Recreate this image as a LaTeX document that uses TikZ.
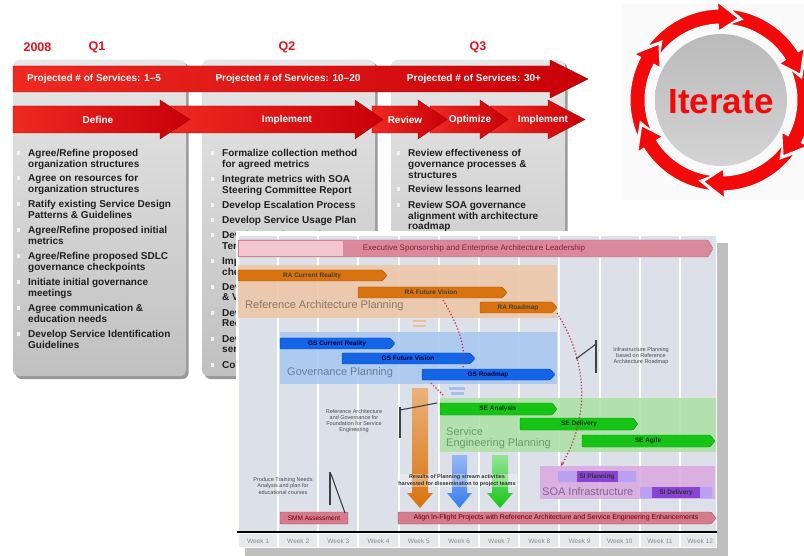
\documentclass[tikz,border=0pt]{standalone}
\usepackage{fontspec}
\setmainfont{Liberation Sans}
\usetikzlibrary{arrows.meta}
\definecolor{hdrred}{HTML}{E8101A}
\definecolor{barL}{HTML}{EE2A22}
\definecolor{barR}{HTML}{C80008}
\definecolor{bardk}{HTML}{A00008}
\definecolor{ringred}{HTML}{F20A0A}
\definecolor{panT}{HTML}{E6E6E6}
\definecolor{panB}{HTML}{C0C0C0}
\definecolor{gbg}{HTML}{DCE0E8}
\definecolor{wkbg}{HTML}{E6E8EC}
\definecolor{execL}{HTML}{F2C6D0}
\definecolor{execD}{HTML}{D9899A}
\definecolor{execE}{HTML}{B86474}
\definecolor{execT}{HTML}{8A2030}
\definecolor{raband}{HTML}{EDC6A6}
\definecolor{rabar}{HTML}{D9730F}
\definecolor{rabarE}{HTML}{A65200}
\definecolor{gsband}{HTML}{A8C7F0}
\definecolor{gsbar}{HTML}{1464E6}
\definecolor{gsbarE}{HTML}{0A44B0}
\definecolor{seband}{HTML}{ADE2A6}
\definecolor{sebar}{HTML}{16C416}
\definecolor{sebarE}{HTML}{0A960A}
\definecolor{siband}{HTML}{DAAADF}
\definecolor{sibar}{HTML}{8A44D4}
\definecolor{sibarL}{HTML}{B8A0F2}
\definecolor{pkbar}{HTML}{D47C8C}
\definecolor{pkbarE}{HTML}{B05868}
\definecolor{dotred}{HTML}{C0304A}
\definecolor{raT}{HTML}{8C7868}
\definecolor{gsT}{HTML}{6C7C9C}
\definecolor{seT}{HTML}{6E9A6E}
\definecolor{siT}{HTML}{806890}
\newcommand\redarrow[3]{%
  \shadedraw[left color=barL,right color=barR,draw=bardk,line width=.3pt]
   (#1,106) -- (#2,106) -- (#2,100) -- (#3,119.5) -- (#2,139) -- (#2,133) -- (#1,133) -- cycle;}
\newcommand\garrow[5]{%
  \path[#1,rounded corners=1pt] (#2,#4) -- ({#3-5},#4) -- (#3,{(#4+#5)/2}) -- ({#3-5},#5) -- (#2,#5) -- cycle;}
\newcommand\varrow[4]{%
  \shade[#1] (#2,#4) -- (#3,#4) -- (#3,493) -- ({#3+5},493) -- ({(#2+#3)/2},508) -- ({#2-5},493) -- (#2,493) -- cycle;}
\begin{document}
\begin{tikzpicture}[x=1pt,y=-1pt,
  hdr/.style={font=\fontsize{12.5}{14}\selectfont\bfseries, text=hdrred, inner sep=0pt},
  bartxt/.style={font=\fontsize{10}{12}\selectfont\bfseries, text=white, inner sep=0pt},
  bul/.style={anchor=north west, inner sep=0pt, align=left, font=\fontsize{10}{10.7}\selectfont\bfseries, text=black!88},
  gtxt/.style={font=\fontsize{6.5}{7}\selectfont\bfseries, inner sep=0pt},
  band/.style={font=\fontsize{11}{11}\selectfont, inner sep=0pt, anchor=west, align=left},
  note/.style={font=\fontsize{5.5}{6.2}\selectfont, text=black!70, align=center, inner sep=0pt},
  wk/.style={font=\fontsize{6.5}{7}\selectfont, text=black!45, inner sep=0pt},
  callout/.style={draw=black!75, line width=1.1pt},
  dots/.style={dotted, line width=1.2pt, draw=dotred}]
\useasboundingbox (0,0) rectangle (804,556);
\fill[white] (0,0) rectangle (804,556);

% ---------- Iterate ----------
\fill[black!2] (622,4) rectangle (804,200);
\begin{scope}[shift={(721,100)}]
  \shade[top color=black!27, middle color=black!6, bottom color=black!17] (0,0) circle[radius=66pt];
  \foreach \t in {-222,-162,-102,-42,18,78}{
    \filldraw[fill=ringred, draw=white, line width=1pt]
      ({\t+66}:91pt) arc[start angle={\t+66}, end angle={\t+14}, radius=91pt]
      -- ({\t+14}:98pt) -- (\t:83.5pt) -- ({\t+14}:69pt) -- ({\t+14}:76pt)
      arc[start angle={\t+14}, end angle={\t+66}, radius=76pt]
      -- ({\t+57}:83.5pt) -- cycle;
  }
\end{scope}
\node[font=\fontsize{35}{40}\selectfont\bfseries, text=ringred, inner sep=0pt] (iter) at (721,102) {Iterate};

% ---------- panels ----------
\foreach \x/\w in {13/173,202/173,391/174}{
  \fill[black!40,rounded corners=6pt] (\x+2.5,62.5) rectangle (\x+\w+2.5,379);
  \shade[top color=panT,bottom color=panB,rounded corners=6pt] (\x,60) rectangle (\x+\w,376);
}
\node[hdr] (yr) at (37.5,47) {2008};
\node[hdr] (q1) at (97,47) {Q1};
\node[hdr] (q2) at (287,47) {Q2};
\node[hdr] (q3) at (478,47) {Q3};

\shadedraw[left color=barL,right color=barR,draw=bardk,line width=.3pt]
  (13,66) -- (550,66) -- (550,60) -- (588,79) -- (550,98) -- (550,92) -- (13,92) -- cycle;
\node[bartxt] (s1) at (94,79) {Projected \# of Services: 1–5};
\node[bartxt] (s2) at (288,79) {Projected \# of Services: 10–20};
\node[bartxt] (s3) at (474,79) {Projected \# of Services: 30+};

\redarrow{490}{548}{585}
\redarrow{430}{480}{508}
\redarrow{372}{418}{447}
\redarrow{170}{355}{383}
\redarrow{13}{160}{190}
\node[bartxt] (ph1) at (98,120) {Define};
\node[bartxt] (ph2) at (287,120) {Implement};
\node[bartxt] (ph3) at (405,120) {Review};
\node[bartxt] (ph4) at (470,120) {Optimize};
\node[bartxt] (ph5) at (543,120) {Implement};

\foreach \bx/\by in {18.5/153,18.5/178,18.5/204,18.5/230,18.5/256,18.5/282,18.5/308,18.5/334,
  212.5/153,212.5/179,212.5/205,212.5/220,212.5/235,212.5/261,212.5/287,212.5/313,212.5/339,212.5/365,
  398.5/153,398.5/189,398.5/205}{
  \fill[white!95!black] (\bx-1.7,\by-1.7) rectangle (\bx+1.7,\by+1.7);
}
\node[bul] (a1) at (28,149.3) {Agree/Refine proposed\\organization structures};
\node[bul] (a2) at (28,174.5) {Agree on resources for\\organization structures};
\node[bul] (a3) at (28,200.5) {Ratify existing Service Design\\Patterns \& Guidelines};
\node[bul] (a4) at (28,226.5) {Agree/Refine proposed initial\\metrics};
\node[bul] (a5) at (28,252.5) {Agree/Refine proposed SDLC\\governance checkpoints};
\node[bul] (a6) at (28,278.5) {Initiate initial governance\\meetings};
\node[bul] (a7) at (28,304.5) {Agree communication \&\\education needs};
\node[bul] (a8) at (28,330.5) {Develop Service Identification\\Guidelines};

\node[bul] (b1) at (222,149.3) {Formalize collection method\\for agreed metrics};
\node[bul] (b2) at (222,175) {Integrate metrics with SOA\\Steering Committee Report};
\node[bul] (b3) at (222,201) {Develop Escalation Process};
\node[bul] (b4) at (222,216) {Develop Service Usage Plan};
\node[bul] (b5) at (222,231) {Develop Design Review\\Templates};
\begin{scope}
  \clip (200,240) rectangle (236.5,380);
  \node[bul] (b6) at (222,257) {Impl\\chec};
  \node[bul] (b7) at (222,283) {Dev\\\& Vi};
  \node[bul] (b8) at (222,309) {Dev\\Rec};
  \node[bul] (b9) at (222,335) {Dev\\serv};
  \node[bul] (b10) at (222,361) {Com};
\end{scope}

\node[bul] (c1) at (408,149.3) {Review effectiveness of\\governance processes \&\\structures};
\node[bul] (c2) at (408,185) {Review lessons learned};
\node[bul] (c3) at (408,201) {Review SOA governance\\alignment with architecture\\roadmap};

% ---------- Gantt chart ----------
\fill[black!25] (717,243) rectangle (728,556);
\fill[black!25] (245,548) rectangle (728,556);
\fill[white] (236,231) rectangle (717,548);
\fill[gbg] (239,236) rectangle (716,531);
\fill[wkbg] (239,534) rectangle (716,547);
\foreach \k in {0,...,10} \fill[white] ({277+40.2*\k},236) rectangle ({279+40.2*\k},547);
\draw[line width=1.8pt] (237,532) -- (717,532);
\foreach \k in {1,...,12} \node[wk] (w\k) at ({258+40.2*(\k-1)},541) {Week \k};

\garrow{fill=execD,draw=execE,line width=.4pt}{238}{713}{240}{257}
\fill[execL] (239,241) rectangle (343,256);
\node[font=\fontsize{8}{9}\selectfont, text=execT, inner sep=0pt] (ex) at (474,248.5) {Executive Sponsorship and Enterprise Architecture Leadership};

\fill[raband, opacity=.88] (238,265) rectangle (557,318);
\fill[gsband, opacity=.88] (280,332) rectangle (557,384);
\fill[seband, opacity=.88] (440,398) rectangle (716,452);
\fill[siband, opacity=.88] (540,466) rectangle (715,499);

\node[band, text=raT] (raL) at (245,306) {Reference Architecture Planning};
\node[band, text=gsT] (gsL) at (287,373) {Governance Planning};
\node[band, text=seT] (seL) at (446,438) {Service\\Engineering Planning};
\node[band, text=siT] (siL) at (542,492) {SOA Infrastructure};

\fill[rabar!45] (413,320) rectangle (426,322.5);
\fill[rabar!45] (413,325) rectangle (426,327.5);
\fill[gsbar!40] (449,387) rectangle (465,389.5);
\fill[gsbar!40] (451,392) rectangle (464,394.5);

\garrow{fill=rabar,draw=rabarE,line width=.4pt}{238}{387}{270}{281}
\garrow{fill=rabar,draw=rabarE,line width=.4pt}{358}{507}{287}{298}
\garrow{fill=rabar,draw=rabarE,line width=.4pt}{480}{557}{302}{313}
\node[gtxt, text=black!75] (ra1) at (312,275.5) {RA Current Reality};
\node[gtxt, text=black!75] (ra2) at (431,292.5) {RA Future Vision};
\node[gtxt, text=black!75] (ra3) at (518,307.5) {RA Roadmap};

\garrow{fill=gsbar,draw=gsbarE,line width=.4pt}{280}{395}{338}{349}
\garrow{fill=gsbar,draw=gsbarE,line width=.4pt}{342}{475}{353}{364}
\garrow{fill=gsbar,draw=gsbarE,line width=.4pt}{422}{555}{369}{380}
\node[gtxt, text=blue!25!black] (gs1) at (337,343.5) {GS Current Reality};
\node[gtxt, text=blue!25!black] (gs2) at (408,358.5) {GS Future Vision};
\node[gtxt, text=blue!25!black] (gs3) at (488,374.5) {GS Roadmap};

\garrow{fill=sebar,draw=sebarE,line width=.4pt}{440}{557}{403}{415}
\garrow{fill=sebar,draw=sebarE,line width=.4pt}{520}{638}{418}{430}
\garrow{fill=sebar,draw=sebarE,line width=.4pt}{582}{715}{435}{447}
\node[gtxt, text=green!20!black] (se1) at (498,409) {SE Analysis};
\node[gtxt, text=green!20!black] (se2) at (579,424) {SE Delivery};
\node[gtxt, text=green!20!black] (se3) at (648,441) {SE Agile};

\fill[sibarL, rounded corners=1pt] (558,471) rectangle (636,482);
\fill[sibar] (577,471) rectangle (618,482);
\fill[sibarL, rounded corners=1pt] (640,487) rectangle (712,498);
\fill[sibar] (652,487) rectangle (700,498);
\node[gtxt, text=black!80] (si1) at (597,476.5) {SI Planning};
\node[gtxt, text=black!80] (si2) at (676,492.5) {SI Delivery};

\varrow{top color=rabar!55!white, bottom color=rabar}{412}{428}{388}
\varrow{top color=gsbar!45!white, bottom color=gsbar!85!white}{452}{467}{455}
\varrow{top color=sebar!45!white, bottom color=sebar}{492}{508}{455}
\node[font=\fontsize{5.5}{6.8}\selectfont\bfseries, align=center, text=black!80, inner sep=1pt,
      fill=white, fill opacity=.35, text opacity=1] (res) at (457,480.5)
      {Results of Planning stream activities\\harvested for dissemination to project teams};

\fill[pkbar, draw=pkbarE, line width=.4pt, rounded corners=1pt] (280,512) rectangle (348,524);
\garrow{fill=pkbar,draw=pkbarE,line width=.4pt}{398}{716}{512}{524}
\node[gtxt, font=\fontsize{6.5}{7}\selectfont, text=red!40!black] (smm) at (314,518) {SMM Assessment};
\node[inner sep=0pt, font=\fontsize{7}{8}\selectfont, text=red!40!black] (aln) at (556,518)
  {Align In-Flight Projects with Reference Architecture and Service Engineering Enhancements};

% annotations and callouts
\node[note] (nInf) at (641,356) {Infrastructure Planning\\based on Reference\\Architecture Roadmap};
\node[note] (nRef) at (354,421) {Reference Architecture\\and Governance for\\Foundation for Service\\Engineering};
\node[note] (nTrn) at (283,486) {Produce Training Needs\\Analysis and plan for\\educational courses};
\coordinate (iA) at (596,340); \coordinate (iB) at (596,373);
\coordinate (iC) at (596,344); \coordinate (iD) at (576,359);
\draw[callout] (iA) -- (iB); \draw[callout] (iC) -- (iD);
\coordinate (rA) at (400,407); \coordinate (rB) at (400,438);
\coordinate (rC) at (400,410); \coordinate (rD) at (437,403);
\draw[callout] (rA) -- (rB); \draw[callout] (rC) -- (rD);
\coordinate (tA) at (330,472); \coordinate (tB) at (330,505);
\coordinate (tC) at (331,474); \coordinate (tD) at (345,513);
\draw[callout] (tA) -- (tB); \draw[callout] (tC) -- (tD);

\coordinate (d1a) at (443,300); \coordinate (d1b) at (463,368);
\draw[dots] (d1a) .. controls (458,325) and (466,345) .. (d1b);
\coordinate (d2a) at (431,383); \coordinate (d2b) at (444,396);
\draw[dots] (d2a) -- (d2b);
\coordinate (d3a) at (557,313); \coordinate (d3b) at (561,466);
\draw[dots, -{Stealth[length=4pt]}] (d3a) .. controls (590,365) and (588,420) .. (d3b);
\end{tikzpicture}
\end{document}
